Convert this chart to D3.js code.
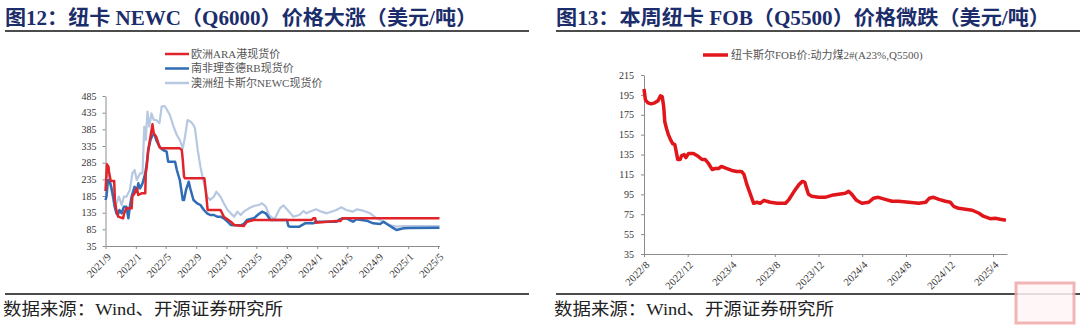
<!DOCTYPE html>
<html><head><meta charset="utf-8">
<script src="https://cdn.jsdelivr.net/npm/d3@7"></script>
<style>body{margin:0;background:#fff} svg{display:block}</style>
</head><body>
<svg id="c" width="1080" height="326"></svg>
<script>
// ---------- text ----------
const titleLeft = "图12：纽卡 NEWC（Q6000）价格大涨（美元/吨）";
const titleRight = "图13：本周纽卡 FOB（Q5500）价格微跌（美元/吨）";
const sourceText = "数据来源：Wind、开源证券研究所";
const leftSeriesNames = ["欧洲ARA港现货价", "南非理查德RB现货价", "澳洲纽卡斯尔NEWC现货价"];
const rightSeriesName = "纽卡斯尔FOB价:动力煤2#(A23%,Q5500)";

// ---------- ticks ----------
const leftYTicks = [35, 85, 135, 185, 235, 285, 335, 385, 435, 485];
const leftXTicks = ["2021/9","2022/1","2022/5","2022/9","2023/1","2023/5","2023/9","2024/1","2024/5","2024/9","2025/1","2025/5"];
const rightYTicks = [35, 55, 75, 95, 115, 135, 155, 175, 195, 215];
const rightXTicks = ["2022/8","2022/12","2023/4","2023/8","2023/12","2024/4","2024/8","2024/12","2025/4"];

// ---------- left series: ARA ----------
const araDates = ["2021-09-01","2021-09-07","2021-09-13","2021-09-15","2021-09-22","2021-10-06","2021-10-09","2021-10-15","2021-10-22","2021-11-11","2021-11-15","2021-11-24","2021-12-15","2021-12-18","2021-12-27","2022-01-05","2022-01-11","2022-01-24","2022-02-08","2022-02-10","2022-02-14","2022-02-20","2022-03-01","2022-03-09","2022-03-14","2022-03-24","2022-04-06","2022-04-11","2022-06-27","2022-07-05","2022-07-09","2022-07-14","2022-07-18","2022-10-04","2022-10-12","2022-10-17","2022-12-08","2022-12-21","2023-01-18","2023-02-01","2023-03-11","2023-03-24","2023-04-21","2023-12-10","2023-12-16","2023-12-24","2023-12-27","2024-02-10","2024-03-18","2024-04-04","2024-04-10","2025-05-07"];
const araValues = [200,280,273,258,230,230,168,143,123,118,133,148,148,183,193,208,188,193,193,253,273,323,363,400,373,363,333,328,328,323,293,243,238,238,183,143,143,123,108,98,95,108,113,113,118,118,105,108,110,110,118,118];

// ---------- left series: RB ----------
const rbDates = ["2021-09-01","2021-09-05","2021-09-11","2021-09-18","2021-09-24","2021-10-02","2021-10-08","2021-10-15","2021-10-21","2021-10-27","2021-11-05","2021-11-14","2021-11-24","2021-12-02","2021-12-08","2021-12-15","2021-12-21","2021-12-27","2022-01-05","2022-01-11","2022-01-18","2022-01-28","2022-02-08","2022-02-14","2022-02-20","2022-03-01","2022-03-09","2022-03-18","2022-03-24","2022-04-06","2022-04-21","2022-05-05","2022-05-11","2022-06-08","2022-06-15","2022-06-27","2022-07-09","2022-07-14","2022-07-22","2022-08-02","2022-08-08","2022-08-21","2022-09-05","2022-09-18","2022-10-02","2022-10-15","2022-10-27","2022-11-11","2022-11-24","2022-12-08","2022-12-21","2023-01-05","2023-01-18","2023-02-01","2023-02-27","2023-03-11","2023-03-24","2023-04-21","2023-05-11","2023-05-24","2023-06-08","2023-06-27","2023-09-01","2023-09-07","2023-09-13","2023-10-21","2023-11-13","2023-12-16","2023-12-27","2024-03-18","2024-04-01","2024-04-27","2024-05-10","2024-05-24","2024-06-07","2024-07-18","2024-08-13","2024-09-10","2024-09-24","2024-10-07","2024-11-04","2024-11-15","2024-12-13","2025-01-10","2025-05-07"];
const rbValues = [173,183,233,228,213,183,153,133,128,143,133,153,153,118,153,183,198,213,198,223,208,223,253,283,323,353,368,368,353,333,323,318,288,288,263,233,173,173,203,228,208,173,163,158,143,133,128,128,123,123,118,108,98,97,97,101,113,118,131,138,133,113,113,95,93,93,103,103,108,108,115,118,113,108,115,111,103,101,108,101,88,83,88,89,90];

// ---------- left series: NEWC ----------
const newcDates = ["2021-09-01","2021-09-07","2021-09-15","2021-09-22","2021-10-02","2021-10-08","2021-10-15","2021-10-25","2021-11-05","2021-11-14","2021-11-24","2021-12-08","2021-12-18","2021-12-27","2022-01-05","2022-01-18","2022-01-28","2022-02-04","2022-02-10","2022-02-17","2022-02-24","2022-03-05","2022-03-14","2022-03-24","2022-04-06","2022-04-15","2022-04-27","2022-05-07","2022-05-18","2022-06-02","2022-06-15","2022-06-27","2022-07-09","2022-07-18","2022-07-28","2022-08-10","2022-08-21","2022-08-27","2022-09-07","2022-09-18","2022-10-02","2022-10-15","2022-10-27","2022-11-11","2022-11-21","2022-12-08","2022-12-21","2023-01-05","2023-01-18","2023-02-01","2023-02-14","2023-02-27","2023-03-11","2023-04-01","2023-04-21","2023-05-11","2023-05-24","2023-06-08","2023-06-21","2023-07-13","2023-08-04","2023-08-18","2023-09-07","2023-09-27","2023-10-21","2023-11-07","2023-11-19","2023-12-01","2023-12-27","2024-01-18","2024-02-09","2024-03-18","2024-04-07","2024-04-27","2024-05-24","2024-06-07","2024-07-04","2024-08-01","2024-08-27","2024-09-24","2024-10-18","2024-11-15","2024-12-13","2025-05-07"];
const newcValues = [233,253,243,213,173,153,163,183,158,183,183,203,253,263,233,253,253,393,353,438,393,433,413,413,403,453,455,443,428,393,368,353,328,363,413,408,398,388,323,273,223,183,173,183,198,183,163,143,133,123,138,128,138,148,155,158,163,153,128,115,148,157,140,123,128,140,133,138,145,138,133,143,151,143,138,145,141,133,118,108,98,93,95,95];

// ---------- right series: NEWC FOB Q5500 ----------
const fobDates = ["2022-08-01","2022-08-05","2022-08-12","2022-08-21","2022-08-31","2022-09-09","2022-09-16","2022-09-21","2022-09-25","2022-09-28","2022-10-03","2022-10-08","2022-10-14","2022-10-20","2022-10-26","2022-10-31","2022-11-03","2022-11-10","2022-11-14","2022-11-21","2022-11-26","2022-12-03","2022-12-17","2022-12-31","2023-01-10","2023-01-19","2023-01-28","2023-02-07","2023-02-16","2023-02-25","2023-03-05","2023-03-19","2023-04-03","2023-04-17","2023-04-30","2023-05-07","2023-05-15","2023-05-22","2023-05-29","2023-06-03","2023-06-12","2023-06-21","2023-07-02","2023-07-10","2023-07-19","2023-08-08","2023-08-31","2023-09-10","2023-09-24","2023-10-08","2023-10-17","2023-10-24","2023-10-27","2023-11-03","2023-11-12","2023-12-01","2023-12-19","2024-01-07","2024-01-26","2024-02-14","2024-02-23","2024-03-03","2024-03-16","2024-03-31","2024-04-19","2024-05-02","2024-05-16","2024-06-04","2024-06-23","2024-07-11","2024-08-09","2024-09-06","2024-09-25","2024-10-05","2024-10-17","2024-11-01","2024-11-19","2024-12-03","2024-12-12","2024-12-26","2025-01-14","2025-02-02","2025-02-21","2025-03-05","2025-03-24","2025-04-07","2025-04-21","2025-05-07"];
const fobValues = [201,190,187,186,187,189,194,193,183,168,161,155,150,146,145,136,130,130,134,135,132,136,136,133,130,130,126,120,121,121,123,121,119,118,118,115,105,98,91,86,87,86,89,88,87,86,86,90,98,105,108,107,103,95,93,92,92,94,95,96,98,95,89,86,87,91,92,90,88,88,87,86,87,91,92,90,88,87,83,81,80,79,76,73,70.5,71,70,69];

// ---------- drawing ----------
const svg = d3.select("#c");
const parse = d3.timeParse("%Y-%m-%d");
const parseTick = d3.timeParse("%Y/%m");
const SERIF = "'Liberation Serif','Times New Roman','Noto Sans CJK SC',serif";
const CJK = "'Liberation Serif','Noto Sans CJK SC',sans-serif";

function header(x0, x1, title, titleWidth) {
  svg.append("text").attr("x", x0).attr("y", 25)
    .attr("font-family", CJK).attr("font-weight", "bold").attr("font-size", 20)
    .attr("fill", "#1c2d6b").attr("textLength", titleWidth).attr("lengthAdjust", "spacingAndGlyphs")
    .text(title);
  svg.append("line").attr("x1", x0).attr("x2", x1).attr("y1", 31).attr("y2", 31)
    .attr("stroke", "#111").attr("stroke-width", 1.6);
  svg.append("line").attr("x1", x0).attr("x2", x1).attr("y1", 294).attr("y2", 294)
    .attr("stroke", "#111").attr("stroke-width", 1.6);
  svg.append("text").attr("x", x0 - 2).attr("y", 315)
    .attr("font-family", CJK).attr("font-size", 17).attr("fill", "#222")
    .attr("textLength", 280).attr("lengthAdjust", "spacingAndGlyphs")
    .text(sourceText);
}

function styleAxis(g, fs) {
  g.selectAll("path,line").attr("stroke", "#8c8c8c").attr("stroke-width", 1);
  g.selectAll("text").attr("font-family", SERIF).attr("font-size", fs).attr("fill", "#333");
}

function rotateLabels(g, dx, dy) {
  g.selectAll(".tick text")
    .attr("x", 0).attr("y", 0).attr("dy", "0.35em")
    .attr("text-anchor", "end")
    .attr("transform", `translate(${dx},${dy}) rotate(-45)`);
}

// ===== Left chart =====
header(5, 529, titleLeft, 472);
{
  const x = d3.scaleTime().domain([parse("2021-09-01"), parse("2025-05-07")]).range([105.5, 439.5]);
  const y = d3.scaleLinear().domain([35, 485]).range([246, 96]);

  const gy = svg.append("g").attr("transform", `translate(${x.range()[0]},0)`)
    .call(d3.axisLeft(y).tickValues(leftYTicks).tickSize(3).tickPadding(6).tickSizeOuter(0));
  styleAxis(gy, 10);
  const gx = svg.append("g").attr("transform", `translate(0,${y(35)})`)
    .call(d3.axisBottom(x).tickValues(leftXTicks.map(parseTick)).tickFormat(d3.timeFormat("%Y/%-m")).tickSize(3).tickSizeOuter(0));
  styleAxis(gx, 10.5);
  rotateLabels(gx, 3, 9);

  const line = d3.line().x(d => x(d[0])).y(d => y(d[1]));
  const series = [
    {dates: newcDates, values: newcValues, color: "#b7c8e2", w: 2.2},
    {dates: rbDates, values: rbValues, color: "#306db5", w: 2.5},
    {dates: araDates, values: araValues, color: "#e0242a", w: 2.5}
  ];
  series.forEach(s => {
    const pts = s.dates.map((d, i) => [parse(d), s.values[i]]);
    svg.append("path").attr("d", line(pts)).attr("fill", "none")
      .attr("stroke", s.color).attr("stroke-width", s.w).attr("stroke-linejoin", "round");
  });

  // legend
  const legColors = ["#e0242a", "#306db5", "#b7c8e2"];
  leftSeriesNames.forEach((n, i) => {
    const ly = 54 + i * 14.5;
    svg.append("line").attr("x1", 165).attr("x2", 189).attr("y1", ly).attr("y2", ly)
      .attr("stroke", legColors[i]).attr("stroke-width", 2.5);
    svg.append("text").attr("x", 191).attr("y", ly).attr("dy", "0.35em")
      .attr("font-family", CJK).attr("font-size", 11).attr("fill", "#555").text(n);
  });
}

// ===== Right chart =====
header(556, 1080, titleRight, 494);
{
  const x = d3.scaleTime().domain([parse("2022-08-01"), parse("2025-05-10")]).range([644, 1007]);
  const y = d3.scaleLinear().domain([35, 215]).range([254, 75]);

  const gy = svg.append("g").attr("transform", `translate(${x.range()[0]},0)`)
    .call(d3.axisLeft(y).tickValues(rightYTicks).tickSize(3).tickPadding(7).tickSizeOuter(0));
  styleAxis(gy, 10);
  const gx = svg.append("g").attr("transform", `translate(0,${y(35)})`)
    .call(d3.axisBottom(x).tickValues(rightXTicks.map(parseTick)).tickFormat(d3.timeFormat("%Y/%-m")).tickSize(3).tickSizeOuter(0));
  styleAxis(gx, 10.5);
  rotateLabels(gx, 3, 9);

  const line = d3.line().x(d => x(d[0])).y(d => y(d[1]));
  const pts = fobDates.map((d, i) => [parse(d), fobValues[i]]);
  svg.append("path").attr("d", line(pts)).attr("fill", "none")
    .attr("stroke", "#e0161b").attr("stroke-width", 3.5).attr("stroke-linejoin", "round");

  svg.append("line").attr("x1", 703).attr("x2", 728).attr("y1", 55).attr("y2", 55)
    .attr("stroke", "#e0161b").attr("stroke-width", 3.5);
  svg.append("text").attr("x", 731).attr("y", 55).attr("dy", "0.35em")
    .attr("font-family", CJK).attr("font-size", 11).attr("fill", "#555").text(rightSeriesName);
}

// watermark stamp (bottom-right)
svg.append("rect").attr("x", 1016).attr("y", 283).attr("width", 58).attr("height", 40)
  .attr("fill", "#fff6f6").attr("stroke", "#f0a9a9").attr("stroke-width", 3).attr("opacity", 0.85);
</script>
</body></html>
